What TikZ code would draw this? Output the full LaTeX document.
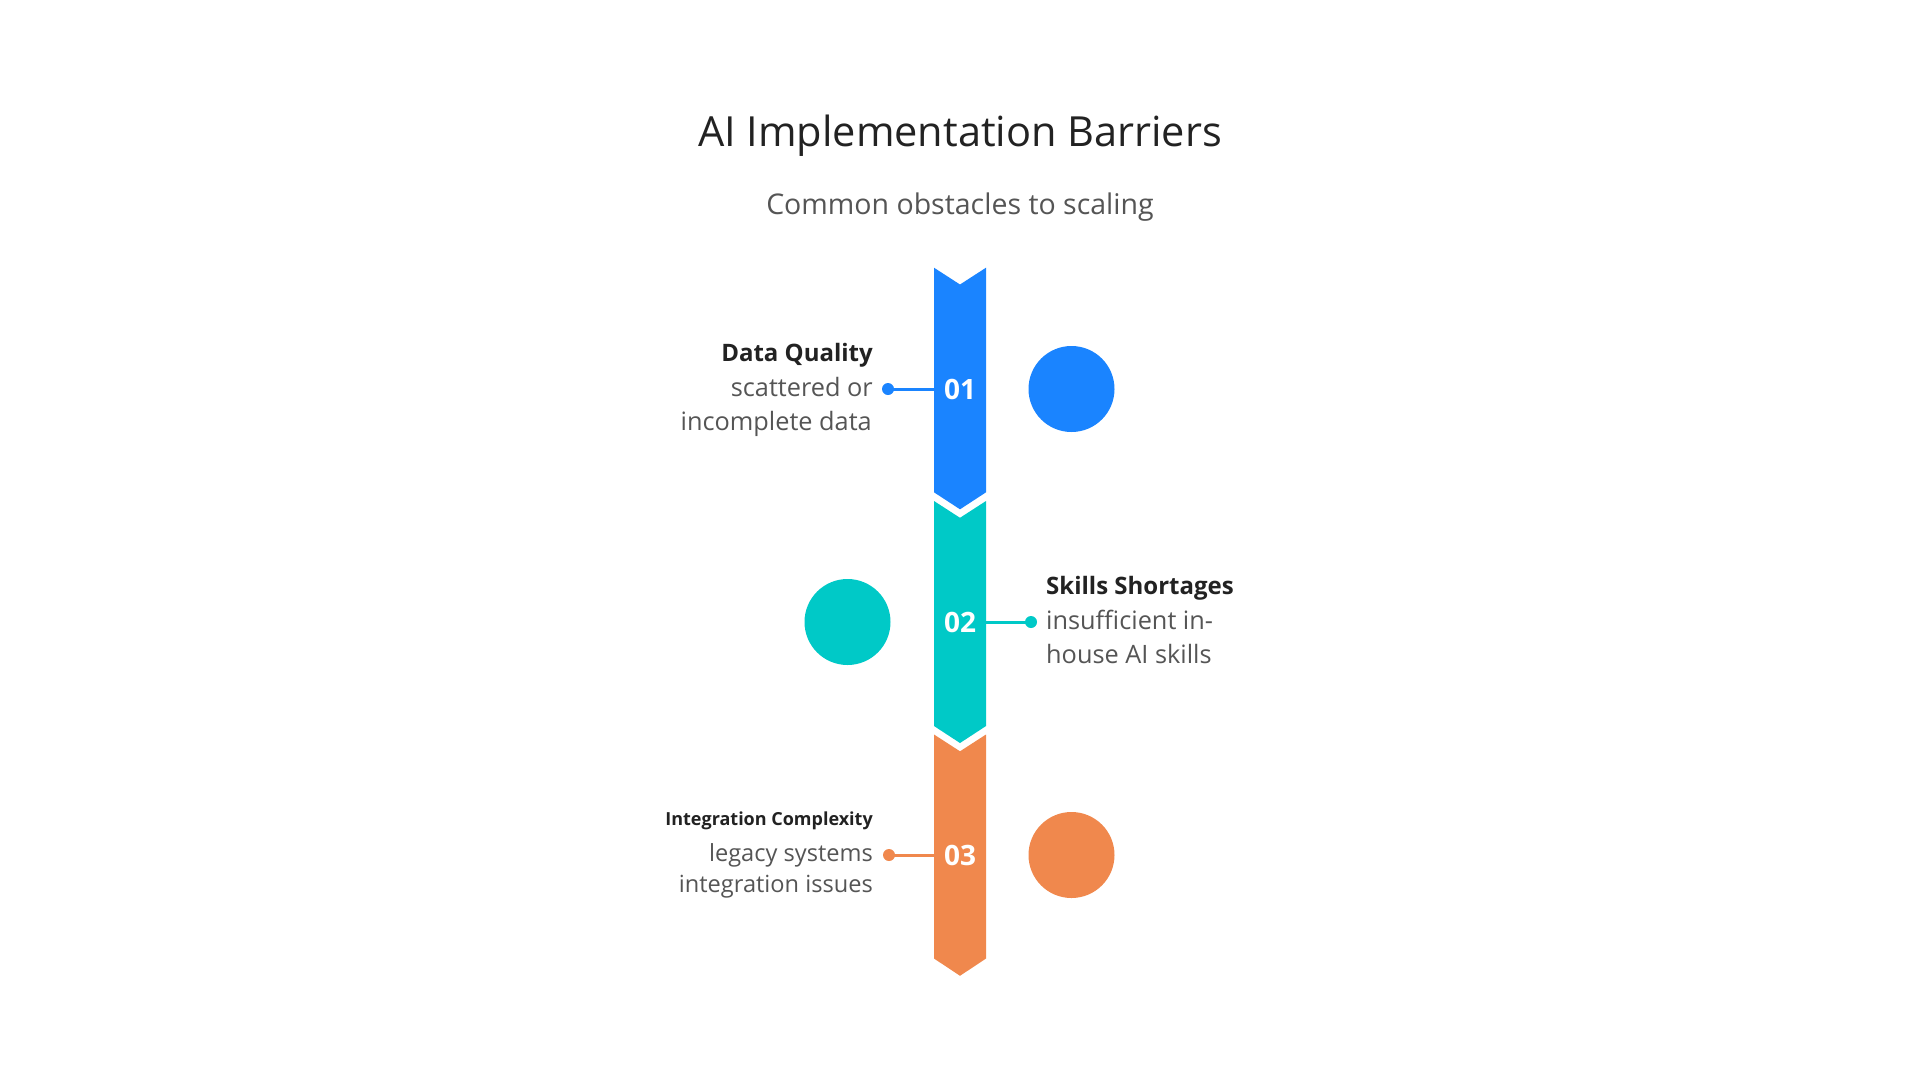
\documentclass[tikz,border=0pt]{standalone}
\usepackage{fontspec}
\setmainfont{Open Sans}
\definecolor{cblue}{HTML}{1A84FF}
\definecolor{cteal}{HTML}{00C9C7}
\definecolor{corange}{HTML}{F0884D}
\definecolor{ctitle}{HTML}{222222}
\definecolor{cbody}{HTML}{555555}
\begin{document}
\begin{tikzpicture}[x=1pt,y=-1pt,
  titlestyle/.style={font=\fontsize{41.5}{48}\selectfont, text=ctitle, inner sep=0, anchor=base},
  substyle/.style={font=\fontsize{28.5}{33}\selectfont, text=cbody, inner sep=0, anchor=base},
  headstyle/.style={font=\fontsize{24}{28}\selectfont\bfseries, text=ctitle, inner sep=0},
  smallhead/.style={font=\fontsize{18}{22}\selectfont\bfseries, text=ctitle, inner sep=0},
  bodystyle/.style={font=\fontsize{25.3}{30}\selectfont, text=cbody, inner sep=0},
  bodysmall/.style={font=\fontsize{23.6}{28}\selectfont, text=cbody, inner sep=0},
  numstyle/.style={font=\fontsize{28}{32}\selectfont\bfseries, text=white, inner sep=0},
  bigdot/.style={circle, minimum size=86, inner sep=0},
  smalldot/.style={circle, minimum size=12, inner sep=0},
  linkline/.style={line width=3}
]
\useasboundingbox (0,0) rectangle (1920,1080);
\fill[white] (0,0) rectangle (1920,1080);

% title
\node[titlestyle] (title) at (960,146.5) {AI Implementation Barriers};
\node[substyle] (subtitle) at (960,214) {Common obstacles to scaling};

% bar segments
\fill[cblue] (934,267.7) -- (960,284.5) -- (986,267.7) -- (986,492.3) -- (960,509.3) -- (934,492.3) -- cycle;
\fill[cteal] (934,501) -- (960,517.8) -- (986,501) -- (986,726) -- (960,743) -- (934,726) -- cycle;
\fill[corange] (934,734.5) -- (960,751.3) -- (986,734.5) -- (986,958.5) -- (960,975.8) -- (934,958.5) -- cycle;

% numbers
\node[numstyle] (n1) at (960,389) {01};
\node[numstyle] (n2) at (960,622) {02};
\node[numstyle] (n3) at (960,855) {03};

% bar edges
\coordinate (e1) at (934,389);
\coordinate (e2) at (986,622);
\coordinate (e3) at (934,855);

% big circles
\node[bigdot, fill=cblue] (c1) at (1071.5,389) {};
\node[bigdot, fill=cteal] (c2) at (847.5,622) {};
\node[bigdot, fill=corange] (c3) at (1071.5,855) {};

% small dots and links
\node[smalldot, fill=cblue] (d1) at (888,389) {};
\node[smalldot, fill=cteal] (d2) at (1031,622) {};
\node[smalldot, fill=corange] (d3) at (889,855) {};
\draw[linkline, cblue] (d1.center) -- (e1);
\draw[linkline, cteal] (d2.center) -- (e2);
\draw[linkline, corange] (d3.center) -- (e3);

% row 1 text
\node[headstyle, anchor=base east] (h1) at (873,361) {Data Quality};
\node[bodystyle, anchor=base east] (b1a) at (873,396) {scattered or};
\node[bodystyle, anchor=base east] (b1b) at (872,430) {incomplete data};

% row 2 text
\node[headstyle, anchor=base west] (h2) at (1046,594) {Skills Shortages};
\node[bodystyle, anchor=base west] (b2a) at (1046,629) {insufficient in-};
\node[bodystyle, anchor=base west] (b2b) at (1046,663.5) {house AI skills};

% row 3 text
\node[smallhead, anchor=base east] (h3) at (873,825) {Integration Complexity};
\node[bodysmall, anchor=base east] (b3a) at (873,861) {legacy systems};
\node[bodysmall, anchor=base east] (b3b) at (873,892) {integration issues};
\end{tikzpicture}
\end{document}
